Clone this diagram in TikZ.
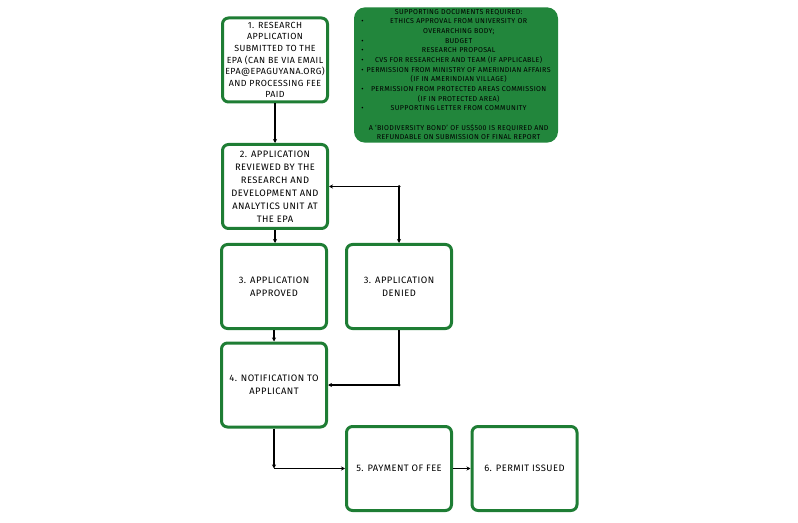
\documentclass[tikz,border=0pt]{standalone}
\usepackage{fontspec}
\setmainfont{Fira Sans}[LetterSpace=5]
\usetikzlibrary{positioning}
\usetikzlibrary{arrows.meta}
\usetikzlibrary{calc}

\definecolor{epagreen}{RGB}{30,125,52}
\definecolor{docgreen}{RGB}{34,134,60}

\tikzset{
  stepbox/.style={draw=epagreen, line width=3bp, rounded corners=6bp, fill=white,
    minimum width=105bp, minimum height=84bp, align=center, inner sep=1bp,
    font=\fontsize{9.4}{13}\selectfont},
  flow/.style={line width=1.1bp, -{Stealth[length=4bp,width=4bp]}},
  joint/.style={fill=black},
}

\begin{document}
\begin{tikzpicture}[x=1bp,y=-1bp]

  \useasboundingbox (0,0) rectangle (798,523);

  % supporting documents
  \node[fill=docgreen, rounded corners=11bp, minimum width=204bp, minimum height=132bp,
    inner sep=0pt, font=\fontsize{7.1}{9.7}\selectfont] (docs) at (456,75) {%
    \begin{tabular}{@{}c@{\hspace{3bp}}c@{}}
                & SUPPORTING DOCUMENTS REQUIRED:\\
    \textbullet & ETHICS APPROVAL FROM UNIVERSITY OR\\
                & OVERARCHING BODY;\\
    \textbullet & BUDGET\\
    \textbullet & RESEARCH PROPOSAL\\
    \textbullet & CVS FOR RESEARCHER AND TEAM (IF APPLICABLE)\\
    \textbullet & PERMISSION FROM MINISTRY OF AMERINDIAN AFFAIRS\\
                & (IF IN AMERINDIAN VILLAGE)\\
    \textbullet & PERMISSION FROM PROTECTED AREAS COMMISSION\\
                & (IF IN PROTECTED AREA)\\
    \textbullet & SUPPORTING LETTER FROM COMMUNITY\\
                & \\
                & A `BIODIVERSITY BOND' OF US\$500 IS REQUIRED AND\\
                & REFUNDABLE ON SUBMISSION OF FINAL REPORT
    \end{tabular}};

  % steps of the application
  \node[stepbox, font=\fontsize{8.9}{11.6}\selectfont] (submit) at (275,60)
    {1. RESEARCH\\APPLICATION\\SUBMITTED TO THE\\EPA (CAN BE VIA EMAIL\\EPA@EPAGUYANA.ORG)\\AND PROCESSING FEE\\PAID};
  \node[stepbox] (review) at (275,186.5)
    {2. APPLICATION\\REVIEWED BY THE\\RESEARCH AND\\DEVELOPMENT AND\\ANALYTICS UNIT AT\\THE EPA};
  \node[stepbox] (approve) at (274,286.5) {3. APPLICATION\\APPROVED};
  \node[stepbox] (deny) at (399,286.5) {3. APPLICATION\\DENIED};
  \node[stepbox] (notify) at (274,385) {4. NOTIFICATION TO\\APPLICANT};
  \node[stepbox] (pay) at (399,468.5) {5. PAYMENT OF FEE};
  \node[stepbox] (permit) at (524.5,468.5) {6. PERMIT ISSUED};

  % connectors
  \draw[flow] (submit.south) -- (submit.south |- review.north);
  \draw[flow] (review.south) -- (review.south |- approve.north);
  \draw[flow, {Stealth[length=4bp,width=4bp]}-{Stealth[length=4bp,width=4bp]}]
    (review.east) -| (deny.north);
  \fill[joint] (review.east -| deny.north) circle (1.5bp);
  \draw[flow] (approve.south) -- (approve.south |- notify.north);
  \draw[flow] (deny.south) |- (notify.east);
  \fill[joint] (deny.south |- notify.east) circle (1.5bp);

  \coordinate (turn) at (notify.south |- pay.west);
  \draw[flow] (notify.south) -- (turn);
  \draw[flow] (turn) -- (pay.west);
  \draw[flow] (pay) -- (permit);

\end{tikzpicture}
\end{document}
